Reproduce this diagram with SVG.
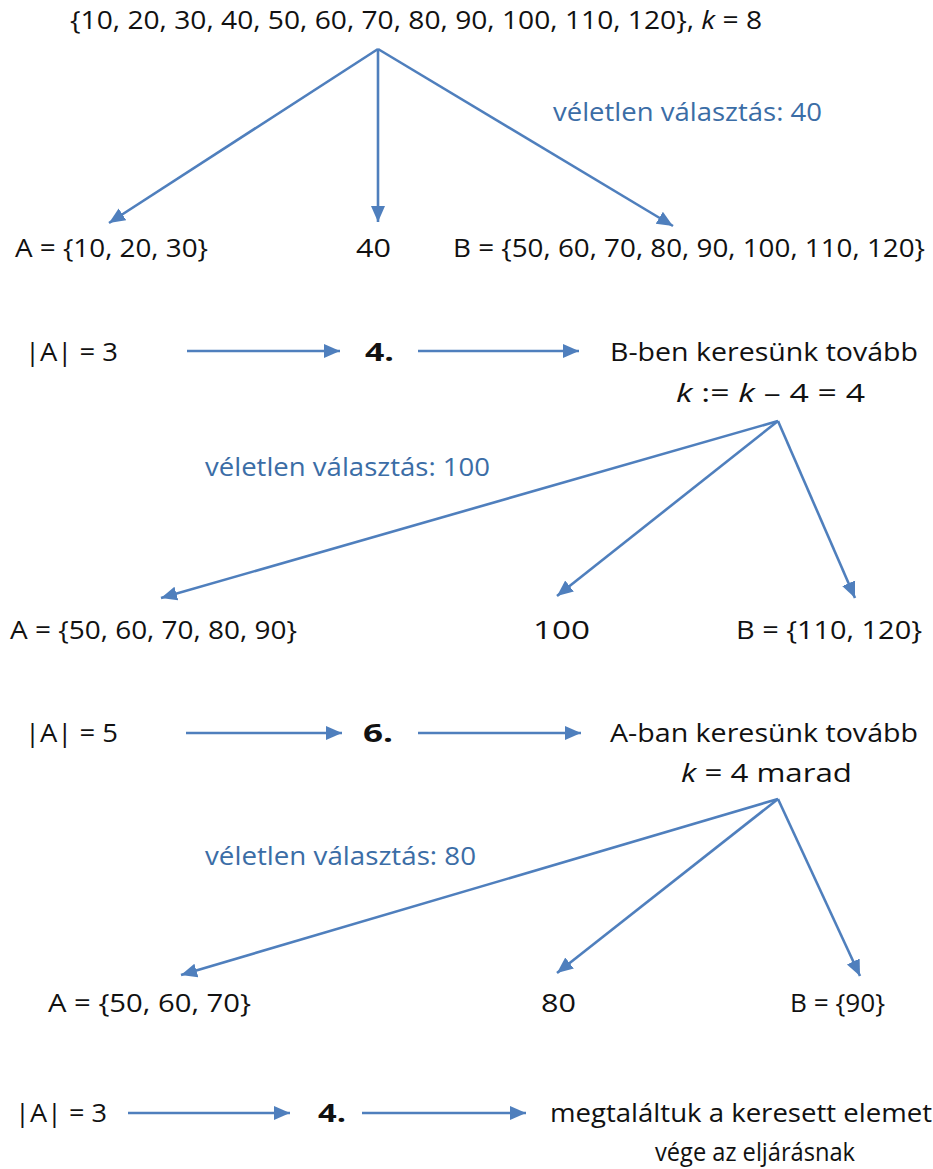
<svg xmlns="http://www.w3.org/2000/svg" width="933" height="1169" viewBox="0 0 933 1169">
<style>
text{font-family:"Open Sans","Liberation Sans",sans-serif;font-size:25px;fill:#111;}
.b{font-weight:bold;}
.blue{fill:#3b6da6;}
.c{stroke:#4f7fbd;stroke-width:2.6;fill:none;marker-end:url(#ah);}
</style>
<defs>
<marker id="ah" markerUnits="userSpaceOnUse" markerWidth="18" markerHeight="16" viewBox="0 0 18 16" refX="16" refY="8" orient="auto">
<path d="M0,1 L16,8 L0,15 Z" fill="#4f7fbd"/>
</marker>
</defs>
<rect width="933" height="1169" fill="#fff"/>
<g id="connectors">
<line class="c" x1="378" y1="49" x2="109" y2="223"/>
<line class="c" x1="378" y1="49" x2="378" y2="222"/>
<line class="c" x1="378" y1="49" x2="673" y2="226"/>
<line class="c" x1="187" y1="351" x2="340" y2="351"/>
<line class="c" x1="418" y1="351" x2="579" y2="351"/>
<line class="c" x1="778" y1="421" x2="161" y2="598"/>
<line class="c" x1="778" y1="421" x2="557" y2="596"/>
<line class="c" x1="778" y1="421" x2="855" y2="598"/>
<line class="c" x1="186" y1="733" x2="342" y2="733"/>
<line class="c" x1="418" y1="733" x2="581" y2="733"/>
<line class="c" x1="778" y1="799" x2="181" y2="975"/>
<line class="c" x1="778" y1="799" x2="557" y2="973"/>
<line class="c" x1="778" y1="799" x2="860" y2="976"/>
<line class="c" x1="128" y1="1113" x2="290" y2="1113"/>
<line class="c" x1="362" y1="1113" x2="526" y2="1113"/>
</g>
<g id="n-root"><text x="70" y="29" textLength="692" lengthAdjust="spacingAndGlyphs">{10, 20, 30, 40, 50, 60, 70, 80, 90, 100, 110, 120}, <tspan font-style="italic">k</tspan> = 8</text></g>
<g id="l-pick1"><text class="blue" x="553" y="121" textLength="269" lengthAdjust="spacingAndGlyphs">véletlen választás: 40</text></g>
<g id="n-a1"><text x="15" y="257" textLength="193" lengthAdjust="spacingAndGlyphs">A = {10, 20, 30}</text></g>
<g id="n-p1"><text x="356" y="257" textLength="35" lengthAdjust="spacingAndGlyphs">40</text></g>
<g id="n-b1"><text x="453" y="257" textLength="472" lengthAdjust="spacingAndGlyphs">B = {50, 60, 70, 80, 90, 100, 110, 120}</text></g>
<g id="n-s1"><text x="25" y="361" textLength="93" lengthAdjust="spacingAndGlyphs">|A| = 3</text></g>
<g id="n-r1"><text class="b" x="365" y="361" textLength="29" lengthAdjust="spacingAndGlyphs">4.</text></g>
<g id="n-d1"><text x="610" y="361" textLength="308" lengthAdjust="spacingAndGlyphs">B-ben keresünk tovább</text>
<text x="676" y="402" textLength="189" lengthAdjust="spacingAndGlyphs"><tspan font-style="italic">k</tspan> := <tspan font-style="italic">k</tspan> – 4 = 4</text></g>
<g id="l-pick2"><text class="blue" x="205" y="476" textLength="285" lengthAdjust="spacingAndGlyphs">véletlen választás: 100</text></g>
<g id="n-a2"><text x="10" y="639" textLength="287" lengthAdjust="spacingAndGlyphs">A = {50, 60, 70, 80, 90}</text></g>
<g id="n-p2"><text x="533" y="639" textLength="57" lengthAdjust="spacingAndGlyphs">100</text></g>
<g id="n-b2"><text x="736" y="639" textLength="186" lengthAdjust="spacingAndGlyphs">B = {110, 120}</text></g>
<g id="n-s2"><text x="25" y="742" textLength="93" lengthAdjust="spacingAndGlyphs">|A| = 5</text></g>
<g id="n-r2"><text class="b" x="363" y="742" textLength="30" lengthAdjust="spacingAndGlyphs">6.</text></g>
<g id="n-d2"><text x="610" y="742" textLength="308" lengthAdjust="spacingAndGlyphs">A-ban keresünk tovább</text>
<text x="681" y="782" textLength="171" lengthAdjust="spacingAndGlyphs"><tspan font-style="italic">k</tspan> = 4 marad</text></g>
<g id="l-pick3"><text class="blue" x="205" y="865" textLength="271" lengthAdjust="spacingAndGlyphs">véletlen választás: 80</text></g>
<g id="n-a3"><text x="48" y="1012" textLength="203" lengthAdjust="spacingAndGlyphs">A = {50, 60, 70}</text></g>
<g id="n-p3"><text x="541" y="1012" textLength="35" lengthAdjust="spacingAndGlyphs">80</text></g>
<g id="n-b3"><text x="790" y="1012" textLength="95" lengthAdjust="spacingAndGlyphs">B = {90}</text></g>
<g id="n-s3"><text x="15" y="1122" textLength="92" lengthAdjust="spacingAndGlyphs">|A| = 3</text></g>
<g id="n-r3"><text class="b" x="318" y="1122" textLength="28" lengthAdjust="spacingAndGlyphs">4.</text></g>
<g id="n-d3"><text x="550" y="1122" textLength="382" lengthAdjust="spacingAndGlyphs">megtaláltuk a keresett elemet</text>
<text x="655" y="1161" textLength="200" lengthAdjust="spacingAndGlyphs">vége az eljárásnak</text></g>
</svg>
